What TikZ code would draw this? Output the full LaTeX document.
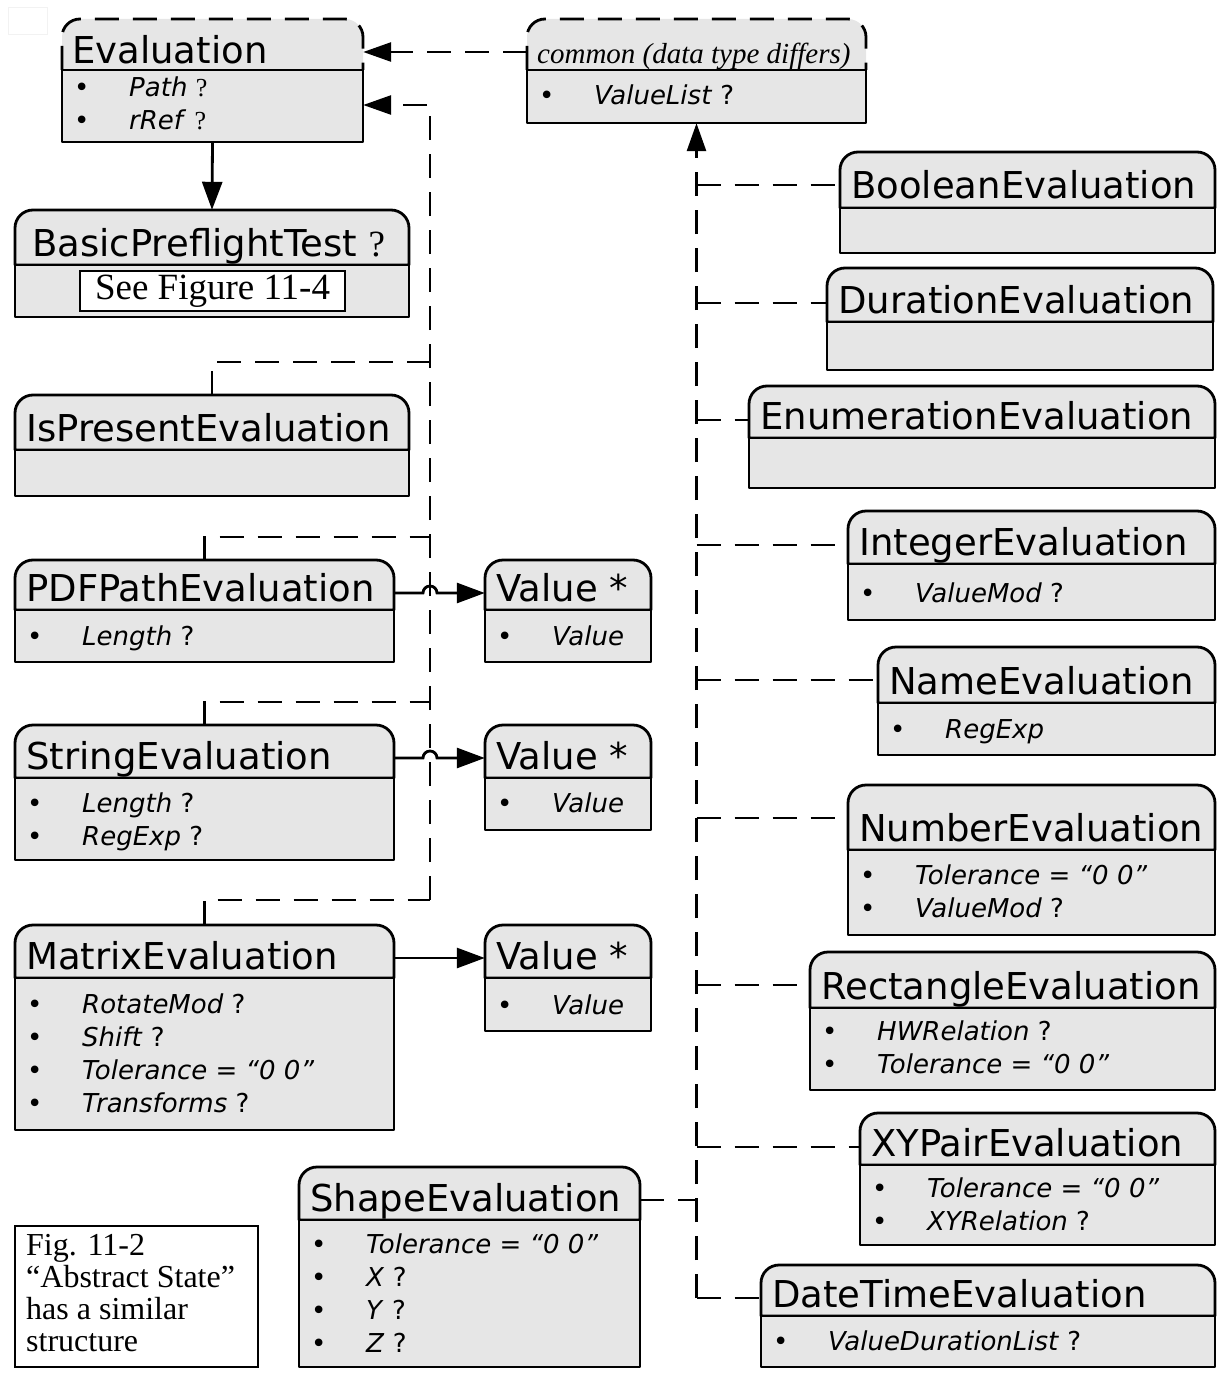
\documentclass[tikz,border=0pt]{standalone}
\usepackage{fontspec}
\setmainfont{Liberation Serif}
\setsansfont{DejaVu Sans}
\usetikzlibrary{arrows.meta,fit}
\definecolor{boxfill}{RGB}{230,230,230}
\tikzset{
  boxline/.style={line width=2.8pt, draw=black, fill=boxfill, line join=round},
  dashline/.style={line width=2.8pt, dash pattern=on 24pt off 14pt},
  ttl/.style={font=\sffamily\fontsize{37}{40}\selectfont, inner sep=0pt, anchor=base west},
  itm/.style={font=\sffamily\fontsize{26}{30}\selectfont, inner sep=0pt, anchor=base west},
  arr/.style={line width=2.8pt, -{Triangle[length=28pt,width=20pt]}},
  dasharr/.style={dashline, -{Triangle[length=28pt,width=19pt]}},
}
\newcommand\rr{18}
% #1 name, #2 left, #3 top, #4 right, #5 divider, #6 bottom, #7 title
\newcommand\classbox[7]{%
  \filldraw[boxline] (#2,-#5) -- (#2,-#3-\rr) arc[start angle=180,end angle=90,radius=\rr]
     -- (#4-\rr,-#3) arc[start angle=90,end angle=0,radius=\rr] -- (#4,-#5) -- cycle;
  \filldraw[boxline] (#2,-#5) rectangle (#4,-#6);
  \node[fit={(#2,-#3)(#4,-#6)},inner sep=0pt] (#1) {};
  \node[ttl] (#1-title) at (#2+11,-#5+9) {#7};
}
\newcommand\dashclassbox[7]{%
  \fill[boxfill] (#2,-#5) -- (#2,-#3-\rr) arc[start angle=180,end angle=90,radius=\rr]
     -- (#4-\rr,-#3) arc[start angle=90,end angle=0,radius=\rr] -- (#4,-#5) -- cycle;
  \draw[dashline] (#2,-#5) -- (#2,-#3-\rr) arc[start angle=180,end angle=90,radius=\rr]
     -- (#4-\rr,-#3) arc[start angle=90,end angle=0,radius=\rr] -- (#4,-#5);
  \filldraw[boxline] (#2,-#5) rectangle (#4,-#6);
  \node[fit={(#2,-#3)(#4,-#6)},inner sep=0pt] (#1) {};
  \node[ttl] (#1-title) at (#2+10,-#5+6) {#7};
}
% #1 left of box, #2 baseline, #3 text
\newcommand\attr[3]{%
  \node[itm] at (#1+12,-#2) {•};
  \node[itm] at (#1+67,-#2) {#3};
}
\begin{document}
\begin{tikzpicture}[x=1pt,y=1pt]
\useasboundingbox (0,0) rectangle (1219,-1375);
\draw[gray!10, line width=1pt] (8,-8) rectangle (47,-35);

\coordinate (lbtop) at (430,-105);
\coordinate (lbbot) at (430,-900);
\coordinate (rbbot) at (696.5,-1298);

% ---------- left column ----------
\dashclassbox{eval}{62}{19}{363}{70}{142}{Evaluation}
\attr{62}{97}{\textit{Path} {\rmfamily ?}}
\attr{62}{130}{\textit{rRef} {\rmfamily ?}}

\classbox{bpt}{15}{210}{409}{265}{317}{\hspace{6pt}BasicPreflightTest {\rmfamily ?}}
\node[draw, line width=2.4pt, fill=white, minimum width=265pt, minimum height=40pt, inner sep=0pt,
      font=\rmfamily\fontsize{37}{38}\selectfont] (seefig) at (212.5,-291) {See Figure 11-4};

\classbox{ispres}{15}{395}{409}{450}{496}{IsPresentEvaluation}

\classbox{pdfpath}{15}{560}{394}{610}{662}{PDFPathEvaluation}
\attr{15}{645}{\textit{Length} ?}

\classbox{string}{15}{725}{394}{778}{860}{StringEvaluation}
\attr{15}{812}{\textit{Length} ?}
\attr{15}{845}{\textit{RegExp} ?}

\classbox{matrix}{15}{925}{394}{978}{1130}{MatrixEvaluation}
\attr{15}{1013}{\textit{RotateMod} ?}
\attr{15}{1046}{\textit{Shift} ?}
\attr{15}{1079}{\textit{Tolerance = “0 0”}}
\attr{15}{1112}{\textit{Transforms} ?}

\classbox{val1}{485}{560}{651}{610}{662}{Value *}
\node[itm] at (497,-645) {•};
\node[itm] at (552,-645) {\textit{Value}};
\classbox{val2}{485}{725}{651}{778}{830}{Value *}
\node[itm] at (497,-812) {•};
\node[itm] at (552,-812) {\textit{Value}};
\classbox{val3}{485}{925}{651}{978}{1031}{Value *}
\node[itm] at (497,-1014) {•};
\node[itm] at (552,-1014) {\textit{Value}};

\classbox{shape}{299}{1167}{640}{1220}{1367}{ShapeEvaluation}
\attr{299}{1253}{\textit{Tolerance = “0 0”}}
\attr{299}{1286}{\textit{X} ?}
\attr{299}{1319}{\textit{Y} ?}
\attr{299}{1352}{\textit{Z} ?}

\node[draw, line width=2.8pt, fit={(15,-1226)(258,-1367)}, inner sep=0pt] (figbox) {};
\node[anchor=north west, align=left, inner sep=0pt,
      font=\rmfamily\fontsize{32}{32}\selectfont] (figtext) at (26,-1234)
  {Fig. 11-2\\“Abstract State”\\has a similar\\structure};

% ---------- common ----------
\dashclassbox{common}{527}{19}{866}{70}{123}{\rmfamily\itshape\fontsize{29}{30}\selectfont common (data type differs)}
\attr{527}{105}{\textit{ValueList} ?}

% ---------- right column ----------
\classbox{bool}{840}{152}{1215}{208}{253}{BooleanEvaluation}
\classbox{dur}{827}{268}{1213}{322}{370}{DurationEvaluation}
\classbox{enum}{749}{386}{1215}{438}{488}{EnumerationEvaluation}
\classbox{int}{848}{511}{1215}{564}{620}{IntegerEvaluation}
\attr{848}{602}{\textit{ValueMod} ?}
\classbox{name}{878}{647}{1215}{703}{755}{NameEvaluation}
\attr{878}{738}{\textit{RegExp}}
\classbox{num}{848}{785}{1215}{850}{935}{NumberEvaluation}
\attr{848}{884}{\textit{Tolerance = “0 0”}}
\attr{848}{917}{\textit{ValueMod} ?}
\classbox{rect}{810}{952}{1215}{1008}{1090}{RectangleEvaluation}
\attr{810}{1040}{\textit{HWRelation} ?}
\attr{810}{1073}{\textit{Tolerance = “0 0”}}
\classbox{xy}{860}{1113}{1215}{1165}{1245}{XYPairEvaluation}
\attr{860}{1197}{\textit{Tolerance = “0 0”}}
\attr{860}{1230}{\textit{XYRelation} ?}
\classbox{dt}{761}{1265}{1215}{1316}{1367}{DateTimeEvaluation}
\attr{761}{1350}{\textit{ValueDurationList} ?}

% ---------- connectors ----------
\draw[arr] (eval.south) -- (bpt.north);
\draw[dasharr] (common.west |- 0,-52) -- (eval.east |- 0,-52);
\draw[dasharr] (lbbot) -- (lbtop) -- (eval.east |- lbtop);
\draw[dashline] (ispres.north) |- (430,-362);
\draw[dashline] (pdfpath.north) |- (430,-537);
\draw[dashline] (string.north) |- (430,-702);
\draw[dashline] (matrix.north) |- (lbbot);

\draw[arr] (pdfpath.east |- 0,-593) -- (423,-593) arc[start angle=180,end angle=0,radius=7] -- (val1.west |- 0,-593);
\draw[arr] (string.east |- 0,-758) -- (423,-758) arc[start angle=180,end angle=0,radius=7] -- (val2.west |- 0,-758);
\draw[arr] (matrix.east |- 0,-958) -- (val3.west |- 0,-958);

\draw[dasharr] (rbbot) -- (common.south);
\draw[dashline] (rbbot) -- (dt.west |- rbbot);
\draw[dashline] (696.5,-185) -- (bool.west |- 0,-185);
\draw[dashline] (696.5,-303) -- (dur.west |- 0,-303);
\draw[dashline] (696.5,-420) -- (enum.west |- 0,-420);
\draw[dashline] (696.5,-545) -- (int.west |- 0,-545);
\draw[dashline] (696.5,-680) -- (name.west |- 0,-680);
\draw[dashline] (696.5,-818) -- (num.west |- 0,-818);
\draw[dashline] (696.5,-985) -- (rect.west |- 0,-985);
\draw[dashline] (696.5,-1147) -- (xy.west |- 0,-1147);
\draw[dashline] (shape.east |- 0,-1200) -- (696.5,-1200);
\end{tikzpicture}
\end{document}
